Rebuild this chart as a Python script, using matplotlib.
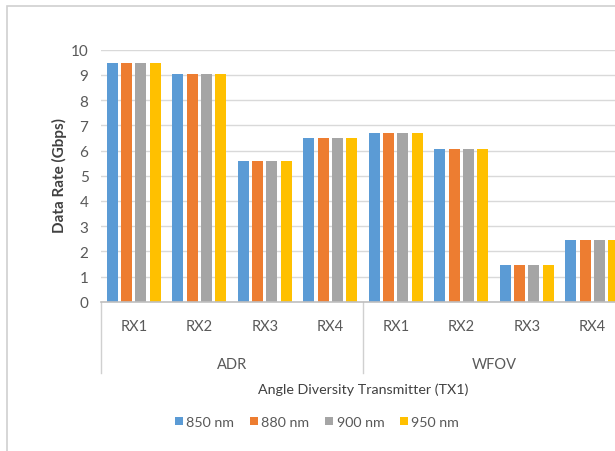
import matplotlib
matplotlib.use("Agg")
import matplotlib.pyplot as plt
from matplotlib.patches import Rectangle
import numpy as np

plt.rcParams['font.family'] = ['Lato', 'DejaVu Sans']

receivers = ["RX1", "RX2", "RX3", "RX4", "RX1", "RX2", "RX3", "RX4"]
groups = ["ADR", "WFOV"]
series_names = ["850 nm", "880 nm", "900 nm", "950 nm"]
adr_values = [9.48, 9.05, 5.6, 6.5]
wfov_values = [6.7, 6.06, 1.46, 2.46]
colors = ["#5B9BD5", "#ED7D31", "#A5A5A5", "#FFC000"]
yticks = [0, 1, 2, 3, 4, 5, 6, 7, 8, 9, 10]

values = adr_values + wfov_values

W, H = 615, 452
fig = plt.figure(figsize=(W / 100, H / 100), dpi=100)

# outer chart frame (cropped)
fig.patches.append(Rectangle((7 / W, -0.1), 1.2, 1 - 7 / H + 0.1, transform=fig.transFigure,
                             fill=False, edgecolor="#d0d0d0", lw=1.2))

left_px, right_px = 101, 625
top_px, bot_px = 50.7, 302.7
ax = fig.add_axes([left_px / W, 1 - bot_px / H, (right_px - left_px) / W, (bot_px - top_px) / H])

x = np.arange(len(receivers)) + 0.5
pitch = 0.217
bw = 0.168
for i, (name, c) in enumerate(zip(series_names, colors)):
    ax.bar(x + (i - 1.5) * pitch, values, width=bw, color=c, label=name, zorder=3)

ax.set_xlim(0, len(receivers))
ax.set_ylim(0, 10)
ax.set_yticks(yticks)
ax.set_yticklabels([str(t) for t in yticks])
ax.grid(axis='y', color="#d9d9d9", lw=1, zorder=0)
ax.set_axisbelow(True)
for s in ["left", "right", "top"]:
    ax.spines[s].set_visible(False)
ax.spines["bottom"].set_color("#bfbfbf")
ax.spines["bottom"].set_linewidth(1.2)
ax.spines["bottom"].set_zorder(4)
ax.set_xticks([])
ax.tick_params(axis='y', length=0, pad=9, labelsize=11, labelcolor="#595959")

ah = bot_px - top_px
def yf(py):
    return (bot_px - py) / ah

tr = ax.get_xaxis_transform()
for xi, lab in zip(x, receivers):
    ax.text(xi, yf(327), lab, transform=tr, ha="center", va="center", fontsize=10.5, color="#595959")
for gi, g in enumerate(groups):
    ax.text(gi * 4 + 2, yf(365), g, transform=tr, ha="center", va="center", fontsize=10.5, color="#595959")
for xv in [0, 4, 8]:
    ax.plot([xv, xv], [0, yf(374)], transform=tr, color="#d0d0d0", lw=1, clip_on=False)

ax.text(4, yf(390), "Angle Diversity Transmitter (TX1)", transform=tr, ha="center", va="center",
        fontsize=10.3, color="#404040")

fig.text(59 / W, 1 - 176 / H, "Data Rate (Gbps)", rotation=90, ha="center", va="center",
         fontsize=11, fontweight="bold", color="#404040")

leg = fig.legend(loc="center", bbox_to_anchor=(317 / W, 1 - 423 / H), ncol=4, frameon=False,
                 fontsize=10.3, handlelength=0.55, handleheight=0.55, handletextpad=0.25,
                 columnspacing=1.1, labelcolor="#595959")

fig.savefig("out.png", dpi=100)
